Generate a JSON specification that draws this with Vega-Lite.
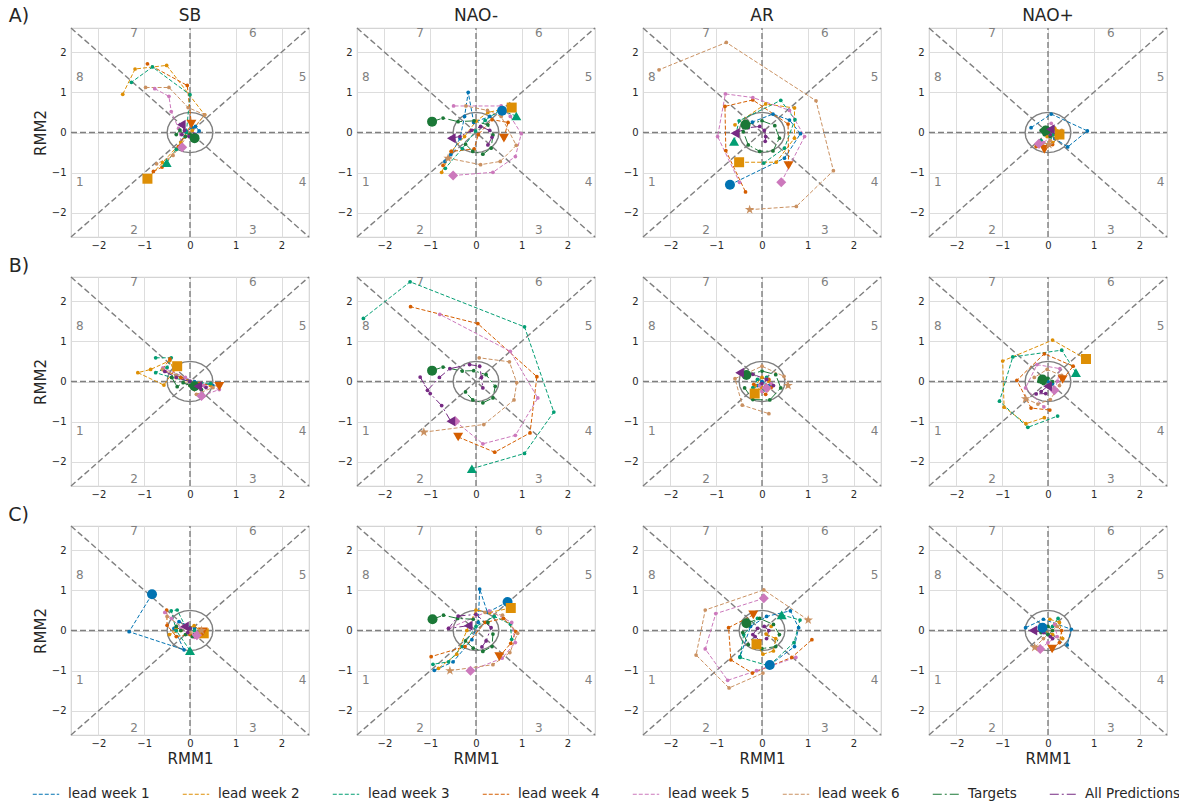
{
"$schema":"https://vega.github.io/schema/vega-lite/v6.json",
"padding":{"left":8,"top":6,"right":5,"bottom":5},
"background":"white",
"datasets":{
"g":[{"x":-2.6,"y":-2.6,"x2":2.6,"y2":2.6},{"x":-2.6,"y":2.6,"x2":2.6,"y2":-2.6},{"x":-2.6,"y":0,"x2":2.6,"y2":0},{"x":0,"y":-2.6,"x2":0,"y2":2.6}],
"c":[{"i":0,"x":0.5,"y":0},{"i":1,"x":0.483,"y":0.129},{"i":2,"x":0.433,"y":0.25},{"i":3,"x":0.354,"y":0.354},{"i":4,"x":0.25,"y":0.433},{"i":5,"x":0.129,"y":0.483},{"i":6,"x":0,"y":0.5},{"i":7,"x":-0.129,"y":0.483},{"i":8,"x":-0.25,"y":0.433},{"i":9,"x":-0.354,"y":0.354},{"i":10,"x":-0.433,"y":0.25},{"i":11,"x":-0.483,"y":0.129},{"i":12,"x":-0.5,"y":0},{"i":13,"x":-0.483,"y":-0.129},{"i":14,"x":-0.433,"y":-0.25},{"i":15,"x":-0.354,"y":-0.354},{"i":16,"x":-0.25,"y":-0.433},{"i":17,"x":-0.129,"y":-0.483},{"i":18,"x":0,"y":-0.5},{"i":19,"x":0.129,"y":-0.483},{"i":20,"x":0.25,"y":-0.433},{"i":21,"x":0.354,"y":-0.354},{"i":22,"x":0.433,"y":-0.25},{"i":23,"x":0.483,"y":-0.129}],
"ph":[{"t":"1","x":-2.41,"y":-1.22},{"t":"2","x":-1.22,"y":-2.42},{"t":"3","x":1.37,"y":-2.42},{"t":"4","x":2.46,"y":-1.22},{"t":"5","x":2.46,"y":1.38},{"t":"6","x":1.37,"y":2.47},{"t":"7","x":-1.22,"y":2.47},{"t":"8","x":-2.41,"y":1.38}],
"m":[
{"p":"A1","s":"2","x":-0.93,"y":-1.15},{"p":"A1","s":"3","x":-0.51,"y":-0.75},{"p":"A1","s":"4","x":0.03,"y":0.21},{"p":"A1","s":"5","x":-0.17,"y":-0.37},{"p":"A1","s":"7","x":0.1,"y":-0.14},{"p":"A1","s":"8","x":-0.19,"y":0.19},
{"p":"A2","s":"1","x":0.57,"y":0.54},{"p":"A2","s":"2","x":0.78,"y":0.62},{"p":"A2","s":"3","x":0.88,"y":0.41},{"p":"A2","s":"4","x":0.61,"y":-0.14},{"p":"A2","s":"5","x":-0.5,"y":-1.07},{"p":"A2","s":"6","x":-0.61,"y":-0.64},{"p":"A2","s":"7","x":-0.96,"y":0.27},{"p":"A2","s":"8","x":-0.54,"y":-0.14},
{"p":"A3","s":"1","x":-0.7,"y":-1.3},{"p":"A3","s":"2","x":-0.5,"y":-0.74},{"p":"A3","s":"3","x":-0.61,"y":-0.22},{"p":"A3","s":"4","x":0.58,"y":-0.82},{"p":"A3","s":"5","x":0.42,"y":-1.24},{"p":"A3","s":"6","x":-0.27,"y":-1.92},{"p":"A3","s":"7","x":-0.36,"y":0.19},{"p":"A3","s":"8","x":-0.59,"y":-0.02},
{"p":"A4","s":"2","x":0.25,"y":-0.05},{"p":"A4","s":"4","x":-0.08,"y":-0.42},{"p":"A4","s":"5","x":-0.2,"y":-0.28},{"p":"A4","s":"6","x":0.02,"y":-0.3},{"p":"A4","s":"7","x":-0.05,"y":0.05},{"p":"A4","s":"8","x":0.05,"y":0.08},
{"p":"B1","s":"2","x":-0.28,"y":0.38},{"p":"B1","s":"4","x":0.64,"y":-0.12},{"p":"B1","s":"5","x":0.25,"y":-0.36},{"p":"B1","s":"7","x":0.1,"y":-0.12},{"p":"B1","s":"8","x":0.17,"y":-0.12},
{"p":"B2","s":"3","x":-0.09,"y":-2.17},{"p":"B2","s":"4","x":-0.39,"y":-1.38},{"p":"B2","s":"5","x":-0.45,"y":-0.99},{"p":"B2","s":"6","x":-1.14,"y":-1.26},{"p":"B2","s":"7","x":-0.96,"y":0.27},{"p":"B2","s":"8","x":-0.55,"y":-0.99},
{"p":"B3","s":"2","x":-0.16,"y":-0.3},{"p":"B3","s":"5","x":0.1,"y":-0.16},{"p":"B3","s":"6","x":0.57,"y":-0.1},{"p":"B3","s":"7","x":-0.34,"y":0.16},{"p":"B3","s":"8","x":-0.49,"y":0.22},
{"p":"B4","s":"2","x":0.83,"y":0.56},{"p":"B4","s":"3","x":0.61,"y":0.22},{"p":"B4","s":"4","x":0.32,"y":0.05},{"p":"B4","s":"5","x":0.14,"y":-0.22},{"p":"B4","s":"6","x":-0.49,"y":-0.43},{"p":"B4","s":"7","x":-0.12,"y":0.05},{"p":"B4","s":"8","x":-0.01,"y":-0.12},
{"p":"C1","s":"1","x":-0.83,"y":0.9},{"p":"C1","s":"2","x":0.3,"y":-0.07},{"p":"C1","s":"3","x":0.0,"y":-0.5},{"p":"C1","s":"4","x":0.28,"y":-0.03},{"p":"C1","s":"5","x":0.15,"y":-0.12},{"p":"C1","s":"6","x":0.25,"y":0.0},{"p":"C1","s":"8","x":-0.12,"y":0.1},
{"p":"C2","s":"1","x":0.69,"y":0.71},{"p":"C2","s":"2","x":0.76,"y":0.56},{"p":"C2","s":"4","x":0.51,"y":-0.65},{"p":"C2","s":"5","x":-0.12,"y":-1.0},{"p":"C2","s":"6","x":-0.57,"y":-1.0},{"p":"C2","s":"7","x":-0.95,"y":0.28},{"p":"C2","s":"8","x":-0.17,"y":0.12},
{"p":"C3","s":"1","x":0.17,"y":-0.86},{"p":"C3","s":"2","x":-0.12,"y":-0.34},{"p":"C3","s":"3","x":0.43,"y":0.39},{"p":"C3","s":"4","x":-0.19,"y":0.39},{"p":"C3","s":"5","x":0.04,"y":0.8},{"p":"C3","s":"6","x":1.01,"y":0.26},{"p":"C3","s":"7","x":-0.34,"y":0.18},
{"p":"C4","s":"1","x":-0.12,"y":0.07},{"p":"C4","s":"4","x":0.09,"y":-0.46},{"p":"C4","s":"5","x":-0.17,"y":-0.46},{"p":"C4","s":"6","x":-0.29,"y":-0.42},{"p":"C4","s":"8","x":-0.33,"y":0.0}
],
"d":[
{"p":"A1","s":"1","i":0,"x":0.05,"y":0.12},{"p":"A1","s":"1","i":1,"x":-0.08,"y":0.02},{"p":"A1","s":"1","i":2,"x":0.08,"y":-0.08},{"p":"A1","s":"1","i":3,"x":0.2,"y":0.04},{"p":"A1","s":"1","i":4,"x":0.12,"y":0.15},
{"p":"A1","s":"2","i":0,"x":-0.93,"y":-1.15},{"p":"A1","s":"2","i":1,"x":-0.6,"y":-0.75},{"p":"A1","s":"2","i":2,"x":-0.2,"y":-0.25},{"p":"A1","s":"2","i":3,"x":0.05,"y":0.05},{"p":"A1","s":"2","i":4,"x":0.32,"y":0.44},{"p":"A1","s":"2","i":5,"x":-0.51,"y":1.67},{"p":"A1","s":"2","i":6,"x":-1.2,"y":1.58},{"p":"A1","s":"2","i":7,"x":-1.47,"y":0.95},
{"p":"A1","s":"3","i":0,"x":-0.51,"y":-0.75},{"p":"A1","s":"3","i":1,"x":-0.3,"y":-0.42},{"p":"A1","s":"3","i":2,"x":-0.08,"y":0.0},{"p":"A1","s":"3","i":3,"x":0.0,"y":0.94},{"p":"A1","s":"3","i":4,"x":-0.82,"y":1.63},{"p":"A1","s":"3","i":5,"x":-1.28,"y":1.25},
{"p":"A1","s":"4","i":0,"x":-0.8,"y":-0.97},{"p":"A1","s":"4","i":1,"x":-0.61,"y":-0.86},{"p":"A1","s":"4","i":2,"x":-0.25,"y":-0.35},{"p":"A1","s":"4","i":3,"x":0.03,"y":0.21},{"p":"A1","s":"4","i":4,"x":-0.06,"y":1.17},{"p":"A1","s":"4","i":5,"x":-0.93,"y":1.71},
{"p":"A1","s":"5","i":0,"x":-0.77,"y":1.09},{"p":"A1","s":"5","i":1,"x":-0.46,"y":0.9},{"p":"A1","s":"5","i":2,"x":-0.41,"y":0.52},{"p":"A1","s":"5","i":3,"x":-0.25,"y":0.1},{"p":"A1","s":"5","i":4,"x":-0.17,"y":-0.37},
{"p":"A1","s":"6","i":0,"x":-0.97,"y":1.12},{"p":"A1","s":"6","i":1,"x":-0.46,"y":1.12},{"p":"A1","s":"6","i":2,"x":-0.04,"y":0.62},{"p":"A1","s":"6","i":3,"x":0.32,"y":0.44},{"p":"A1","s":"6","i":4,"x":0.0,"y":0.0},{"p":"A1","s":"6","i":5,"x":-0.37,"y":-0.57},{"p":"A1","s":"6","i":6,"x":-0.73,"y":-0.78},
{"p":"A1","s":"7","i":0,"x":-0.3,"y":-0.05},{"p":"A1","s":"7","i":1,"x":-0.22,"y":0.06},{"p":"A1","s":"7","i":2,"x":-0.1,"y":-0.1},{"p":"A1","s":"7","i":3,"x":0.0,"y":-0.04},{"p":"A1","s":"7","i":4,"x":0.05,"y":-0.15},{"p":"A1","s":"7","i":5,"x":0.15,"y":-0.1},{"p":"A1","s":"7","i":6,"x":0.1,"y":-0.14},
{"p":"A1","s":"8","i":0,"x":-0.19,"y":0.19},{"p":"A1","s":"8","i":1,"x":-0.12,"y":0.05},{"p":"A1","s":"8","i":2,"x":-0.18,"y":-0.05},{"p":"A1","s":"8","i":3,"x":-0.02,"y":-0.1},{"p":"A1","s":"8","i":4,"x":0.1,"y":-0.04},{"p":"A1","s":"8","i":5,"x":0.15,"y":-0.1},
{"p":"A2","s":"1","i":0,"x":0.57,"y":0.54},{"p":"A2","s":"1","i":1,"x":0.3,"y":0.4},{"p":"A2","s":"1","i":2,"x":-0.05,"y":0.25},{"p":"A2","s":"1","i":3,"x":-0.17,"y":1.0},{"p":"A2","s":"1","i":4,"x":-0.25,"y":0.4},{"p":"A2","s":"1","i":5,"x":-0.35,"y":-0.15},{"p":"A2","s":"1","i":6,"x":-0.55,"y":-0.55},{"p":"A2","s":"1","i":7,"x":-0.68,"y":-0.72},
{"p":"A2","s":"2","i":0,"x":0.78,"y":0.62},{"p":"A2","s":"2","i":1,"x":0.26,"y":0.5},{"p":"A2","s":"2","i":2,"x":0.0,"y":0.28},{"p":"A2","s":"2","i":3,"x":-0.25,"y":-0.1},{"p":"A2","s":"2","i":4,"x":-0.54,"y":-0.47},{"p":"A2","s":"2","i":5,"x":-0.75,"y":-0.99},
{"p":"A2","s":"3","i":0,"x":0.88,"y":0.41},{"p":"A2","s":"3","i":1,"x":0.52,"y":0.56},{"p":"A2","s":"3","i":2,"x":0.2,"y":0.3},{"p":"A2","s":"3","i":3,"x":-0.01,"y":0.04},{"p":"A2","s":"3","i":4,"x":-0.3,"y":-0.4},{"p":"A2","s":"3","i":5,"x":-0.67,"y":-0.89},
{"p":"A2","s":"4","i":0,"x":0.61,"y":-0.14},{"p":"A2","s":"4","i":1,"x":0.7,"y":0.25},{"p":"A2","s":"4","i":2,"x":0.35,"y":0.32},{"p":"A2","s":"4","i":3,"x":0.05,"y":-0.05},{"p":"A2","s":"4","i":4,"x":-0.04,"y":-0.41},{"p":"A2","s":"4","i":5,"x":-0.54,"y":-0.47},{"p":"A2","s":"4","i":6,"x":-0.72,"y":-0.82},
{"p":"A2","s":"5","i":0,"x":-0.5,"y":-1.07},{"p":"A2","s":"5","i":1,"x":0.37,"y":-0.99},{"p":"A2","s":"5","i":2,"x":0.86,"y":-0.6},{"p":"A2","s":"5","i":3,"x":0.99,"y":-0.03},{"p":"A2","s":"5","i":4,"x":0.75,"y":0.4},{"p":"A2","s":"5","i":5,"x":0.55,"y":0.66},{"p":"A2","s":"5","i":6,"x":-0.49,"y":0.66},
{"p":"A2","s":"6","i":0,"x":-0.61,"y":-0.64},{"p":"A2","s":"6","i":1,"x":0.1,"y":-0.8},{"p":"A2","s":"6","i":2,"x":0.53,"y":-0.72},{"p":"A2","s":"6","i":3,"x":0.88,"y":-0.32},{"p":"A2","s":"6","i":4,"x":0.55,"y":0.4},{"p":"A2","s":"6","i":5,"x":0.25,"y":0.55},{"p":"A2","s":"6","i":6,"x":-0.22,"y":0.66},
{"p":"A2","s":"7","i":0,"x":-0.96,"y":0.27},{"p":"A2","s":"7","i":1,"x":-0.72,"y":0.36},{"p":"A2","s":"7","i":2,"x":-0.39,"y":0.27},{"p":"A2","s":"7","i":3,"x":-0.04,"y":0.29},{"p":"A2","s":"7","i":4,"x":0.26,"y":0.19},{"p":"A2","s":"7","i":5,"x":0.37,"y":-0.06},{"p":"A2","s":"7","i":6,"x":0.33,"y":-0.39},{"p":"A2","s":"7","i":7,"x":0.15,"y":-0.54},{"p":"A2","s":"7","i":8,"x":-0.07,"y":-0.47},{"p":"A2","s":"7","i":9,"x":-0.23,"y":-0.29},
{"p":"A2","s":"8","i":0,"x":-0.54,"y":-0.14},{"p":"A2","s":"8","i":1,"x":-0.35,"y":-0.1},{"p":"A2","s":"8","i":2,"x":-0.1,"y":0.05},{"p":"A2","s":"8","i":3,"x":0.1,"y":0.15},{"p":"A2","s":"8","i":4,"x":0.3,"y":0.05},{"p":"A2","s":"8","i":5,"x":0.35,"y":-0.12},{"p":"A2","s":"8","i":6,"x":0.26,"y":-0.31},
{"p":"A3","s":"1","i":0,"x":-0.7,"y":-1.3},{"p":"A3","s":"1","i":1,"x":0.49,"y":-0.64},{"p":"A3","s":"1","i":2,"x":0.84,"y":-0.03},{"p":"A3","s":"1","i":3,"x":0.6,"y":0.31},{"p":"A3","s":"1","i":4,"x":0.24,"y":0.46},{"p":"A3","s":"1","i":5,"x":-0.21,"y":0.26},
{"p":"A3","s":"2","i":0,"x":-0.5,"y":-0.74},{"p":"A3","s":"2","i":1,"x":0.31,"y":-0.74},{"p":"A3","s":"2","i":2,"x":0.71,"y":-0.14},{"p":"A3","s":"2","i":3,"x":0.71,"y":0.61},{"p":"A3","s":"2","i":4,"x":0.08,"y":0.71},{"p":"A3","s":"2","i":5,"x":-0.59,"y":0.19},
{"p":"A3","s":"3","i":0,"x":-0.61,"y":-0.22},{"p":"A3","s":"3","i":1,"x":-0.5,"y":0.29},{"p":"A3","s":"3","i":2,"x":0.41,"y":0.8},{"p":"A3","s":"3","i":3,"x":0.72,"y":0.32},{"p":"A3","s":"3","i":4,"x":0.49,"y":-0.39},{"p":"A3","s":"3","i":5,"x":0.04,"y":-0.76},
{"p":"A3","s":"4","i":0,"x":0.58,"y":-0.82},{"p":"A3","s":"4","i":1,"x":0.57,"y":0.21},{"p":"A3","s":"4","i":2,"x":-0.2,"y":0.81},{"p":"A3","s":"4","i":3,"x":-0.81,"y":0.65},{"p":"A3","s":"4","i":4,"x":-0.79,"y":-0.45},{"p":"A3","s":"4","i":5,"x":-0.36,"y":-1.48},
{"p":"A3","s":"5","i":0,"x":0.42,"y":-1.24},{"p":"A3","s":"5","i":1,"x":0.93,"y":-0.1},{"p":"A3","s":"5","i":2,"x":0.6,"y":0.55},{"p":"A3","s":"5","i":3,"x":-0.2,"y":0.87},{"p":"A3","s":"5","i":4,"x":-0.8,"y":0.96},{"p":"A3","s":"5","i":5,"x":-0.97,"y":-0.1},{"p":"A3","s":"5","i":6,"x":-0.49,"y":-1.24},
{"p":"A3","s":"6","i":0,"x":-0.27,"y":-1.92},{"p":"A3","s":"6","i":1,"x":0.75,"y":-1.84},{"p":"A3","s":"6","i":2,"x":1.56,"y":-0.95},{"p":"A3","s":"6","i":3,"x":1.18,"y":0.79},{"p":"A3","s":"6","i":4,"x":-0.78,"y":2.24},{"p":"A3","s":"6","i":5,"x":-2.25,"y":1.56},
{"p":"A3","s":"7","i":0,"x":-0.36,"y":0.19},{"p":"A3","s":"7","i":1,"x":0.0,"y":0.29},{"p":"A3","s":"7","i":2,"x":0.28,"y":0.17},{"p":"A3","s":"7","i":3,"x":0.38,"y":-0.14},{"p":"A3","s":"7","i":4,"x":0.24,"y":-0.46},{"p":"A3","s":"7","i":5,"x":-0.05,"y":-0.47},{"p":"A3","s":"7","i":6,"x":-0.3,"y":-0.31},{"p":"A3","s":"7","i":7,"x":-0.41,"y":0.02},
{"p":"A3","s":"8","i":0,"x":-0.59,"y":-0.02},{"p":"A3","s":"8","i":1,"x":-0.3,"y":0.12},{"p":"A3","s":"8","i":2,"x":-0.05,"y":0.15},{"p":"A3","s":"8","i":3,"x":0.05,"y":0.05},{"p":"A3","s":"8","i":4,"x":0.08,"y":-0.1},{"p":"A3","s":"8","i":5,"x":0.07,"y":-0.22},
{"p":"A4","s":"1","i":0,"x":-0.37,"y":0.12},{"p":"A4","s":"1","i":1,"x":0.07,"y":0.46},{"p":"A4","s":"1","i":2,"x":0.86,"y":0.04},{"p":"A4","s":"1","i":3,"x":0.43,"y":-0.36},{"p":"A4","s":"1","i":4,"x":0.15,"y":-0.15},
{"p":"A4","s":"2","i":0,"x":0.15,"y":0.1},{"p":"A4","s":"2","i":1,"x":0.3,"y":0.02},{"p":"A4","s":"2","i":2,"x":0.28,"y":-0.1},{"p":"A4","s":"2","i":3,"x":0.1,"y":-0.25},{"p":"A4","s":"2","i":4,"x":-0.02,"y":-0.1},
{"p":"A4","s":"3","i":0,"x":-0.1,"y":0.0},{"p":"A4","s":"3","i":1,"x":0.0,"y":0.1},{"p":"A4","s":"3","i":2,"x":0.12,"y":-0.05},{"p":"A4","s":"3","i":3,"x":0.0,"y":-0.3},{"p":"A4","s":"3","i":4,"x":-0.15,"y":-0.2},
{"p":"A4","s":"4","i":0,"x":-0.26,"y":-0.35},{"p":"A4","s":"4","i":1,"x":-0.08,"y":-0.42},{"p":"A4","s":"4","i":2,"x":0.1,"y":-0.3},{"p":"A4","s":"4","i":3,"x":0.2,"y":-0.1},
{"p":"A4","s":"5","i":0,"x":0.07,"y":0.23},{"p":"A4","s":"5","i":1,"x":0.2,"y":0.0},{"p":"A4","s":"5","i":2,"x":-0.1,"y":-0.25},{"p":"A4","s":"5","i":3,"x":-0.22,"y":-0.3},{"p":"A4","s":"5","i":4,"x":-0.05,"y":-0.35},
{"p":"A4","s":"6","i":0,"x":-0.12,"y":-0.3},{"p":"A4","s":"6","i":1,"x":0.05,"y":-0.2},{"p":"A4","s":"6","i":2,"x":0.2,"y":-0.15},{"p":"A4","s":"6","i":3,"x":0.3,"y":0.05},
{"p":"A4","s":"7","i":0,"x":-0.15,"y":0.05},{"p":"A4","s":"7","i":1,"x":-0.05,"y":0.12},{"p":"A4","s":"7","i":2,"x":0.08,"y":0.05},{"p":"A4","s":"7","i":3,"x":0.05,"y":-0.1},{"p":"A4","s":"7","i":4,"x":-0.08,"y":-0.05},
{"p":"A4","s":"8","i":0,"x":0.0,"y":0.1},{"p":"A4","s":"8","i":1,"x":0.1,"y":0.05},{"p":"A4","s":"8","i":2,"x":0.05,"y":-0.05},{"p":"A4","s":"8","i":3,"x":-0.05,"y":0.0},
{"p":"B1","s":"1","i":0,"x":-0.3,"y":0.15},{"p":"B1","s":"1","i":1,"x":0.1,"y":0.0},{"p":"B1","s":"1","i":2,"x":0.5,"y":-0.1},
{"p":"B1","s":"2","i":0,"x":-0.28,"y":0.38},{"p":"B1","s":"2","i":1,"x":-0.57,"y":-0.09},{"p":"B1","s":"2","i":2,"x":-1.14,"y":0.22},{"p":"B1","s":"2","i":3,"x":-0.86,"y":0.3},{"p":"B1","s":"2","i":4,"x":-0.44,"y":0.52},{"p":"B1","s":"2","i":5,"x":-0.3,"y":0.1},{"p":"B1","s":"2","i":6,"x":0.1,"y":-0.05},{"p":"B1","s":"2","i":7,"x":0.45,"y":-0.1},
{"p":"B1","s":"3","i":0,"x":-0.75,"y":0.59},{"p":"B1","s":"3","i":1,"x":-0.41,"y":0.59},{"p":"B1","s":"3","i":2,"x":-0.5,"y":0.35},{"p":"B1","s":"3","i":3,"x":-0.75,"y":0.22},{"p":"B1","s":"3","i":4,"x":-0.4,"y":0.1},{"p":"B1","s":"3","i":5,"x":0.0,"y":0.0},{"p":"B1","s":"3","i":6,"x":0.45,"y":-0.05},
{"p":"B1","s":"4","i":0,"x":0.64,"y":-0.12},{"p":"B1","s":"4","i":1,"x":0.2,"y":-0.05},{"p":"B1","s":"4","i":2,"x":-0.2,"y":0.1},{"p":"B1","s":"4","i":3,"x":-0.6,"y":0.3},{"p":"B1","s":"4","i":4,"x":-0.44,"y":0.56},
{"p":"B1","s":"5","i":0,"x":0.25,"y":-0.36},{"p":"B1","s":"5","i":1,"x":0.64,"y":-0.2},{"p":"B1","s":"5","i":2,"x":0.3,"y":-0.1},{"p":"B1","s":"5","i":3,"x":-0.1,"y":0.1},{"p":"B1","s":"5","i":4,"x":-0.59,"y":0.34},
{"p":"B1","s":"6","i":0,"x":-0.6,"y":0.3},{"p":"B1","s":"6","i":1,"x":-0.3,"y":0.15},{"p":"B1","s":"6","i":2,"x":0.0,"y":-0.1},{"p":"B1","s":"6","i":3,"x":0.14,"y":-0.32},{"p":"B1","s":"6","i":4,"x":0.5,"y":-0.15},
{"p":"B1","s":"7","i":0,"x":-0.4,"y":0.1},{"p":"B1","s":"7","i":1,"x":-0.28,"y":-0.13},{"p":"B1","s":"7","i":2,"x":-0.15,"y":-0.03},{"p":"B1","s":"7","i":3,"x":0.0,"y":-0.1},{"p":"B1","s":"7","i":4,"x":0.1,"y":-0.07},{"p":"B1","s":"7","i":5,"x":0.25,"y":-0.2},
{"p":"B1","s":"8","i":0,"x":-0.55,"y":0.25},{"p":"B1","s":"8","i":1,"x":-0.3,"y":0.1},{"p":"B1","s":"8","i":2,"x":0.0,"y":0.0},{"p":"B1","s":"8","i":3,"x":0.2,"y":-0.1},{"p":"B1","s":"8","i":4,"x":0.35,"y":-0.15},
{"p":"B2","s":"3","i":0,"x":-0.09,"y":-2.17},{"p":"B2","s":"3","i":1,"x":1.06,"y":-1.79},{"p":"B2","s":"3","i":2,"x":1.7,"y":-0.76},{"p":"B2","s":"3","i":3,"x":1.06,"y":1.36},{"p":"B2","s":"3","i":4,"x":-1.44,"y":2.48},{"p":"B2","s":"3","i":5,"x":-2.46,"y":1.57},
{"p":"B2","s":"4","i":0,"x":-0.39,"y":-1.38},{"p":"B2","s":"4","i":1,"x":0.41,"y":-1.76},{"p":"B2","s":"4","i":2,"x":1.18,"y":-1.28},{"p":"B2","s":"4","i":3,"x":1.33,"y":0.12},{"p":"B2","s":"4","i":4,"x":0.04,"y":1.44},{"p":"B2","s":"4","i":5,"x":-1.43,"y":1.86},
{"p":"B2","s":"5","i":0,"x":-0.45,"y":-0.99},{"p":"B2","s":"5","i":1,"x":0.15,"y":-1.55},{"p":"B2","s":"5","i":2,"x":0.86,"y":-1.34},{"p":"B2","s":"5","i":3,"x":1.35,"y":-0.41},{"p":"B2","s":"5","i":4,"x":0.75,"y":0.75},{"p":"B2","s":"5","i":5,"x":-0.79,"y":1.67},
{"p":"B2","s":"6","i":0,"x":-1.14,"y":-1.26},{"p":"B2","s":"6","i":1,"x":0.17,"y":-1.07},{"p":"B2","s":"6","i":2,"x":0.83,"y":-0.46},{"p":"B2","s":"6","i":3,"x":0.89,"y":-0.03},{"p":"B2","s":"6","i":4,"x":0.73,"y":0.49},{"p":"B2","s":"6","i":5,"x":0.07,"y":0.59},
{"p":"B2","s":"7","i":0,"x":-0.96,"y":0.27},{"p":"B2","s":"7","i":1,"x":-0.72,"y":0.36},{"p":"B2","s":"7","i":2,"x":-0.3,"y":0.26},{"p":"B2","s":"7","i":3,"x":-0.05,"y":0.27},{"p":"B2","s":"7","i":4,"x":0.22,"y":0.17},{"p":"B2","s":"7","i":5,"x":0.42,"y":-0.12},{"p":"B2","s":"7","i":6,"x":0.37,"y":-0.41},{"p":"B2","s":"7","i":7,"x":0.15,"y":-0.53},{"p":"B2","s":"7","i":8,"x":-0.07,"y":-0.46},{"p":"B2","s":"7","i":9,"x":-0.23,"y":-0.26},
{"p":"B2","s":"8","i":0,"x":-0.55,"y":-0.99},{"p":"B2","s":"8","i":1,"x":-0.75,"y":-0.6},{"p":"B2","s":"8","i":2,"x":-1.0,"y":-0.3},{"p":"B2","s":"8","i":3,"x":-1.22,"y":0.11},{"p":"B2","s":"8","i":4,"x":-1.06,"y":-0.22},{"p":"B2","s":"8","i":5,"x":-0.8,"y":0.1},{"p":"B2","s":"8","i":6,"x":-0.57,"y":0.32},{"p":"B2","s":"8","i":7,"x":-0.14,"y":0.42},{"p":"B2","s":"8","i":8,"x":0.08,"y":0.38},{"p":"B2","s":"8","i":9,"x":0.12,"y":0.1},{"p":"B2","s":"8","i":10,"x":0.15,"y":-0.16},
{"p":"B3","s":"1","i":0,"x":0.0,"y":0.0},{"p":"B3","s":"1","i":1,"x":0.15,"y":-0.1},{"p":"B3","s":"1","i":2,"x":0.05,"y":-0.2},{"p":"B3","s":"1","i":3,"x":-0.1,"y":-0.1},
{"p":"B3","s":"2","i":0,"x":-0.16,"y":-0.3},{"p":"B3","s":"2","i":1,"x":0.0,"y":-0.15},{"p":"B3","s":"2","i":2,"x":0.15,"y":0.0},{"p":"B3","s":"2","i":3,"x":0.0,"y":0.1},{"p":"B3","s":"2","i":4,"x":-0.15,"y":-0.1},
{"p":"B3","s":"3","i":0,"x":-0.2,"y":-0.15},{"p":"B3","s":"3","i":1,"x":-0.1,"y":0.05},{"p":"B3","s":"3","i":2,"x":0.1,"y":0.1},{"p":"B3","s":"3","i":3,"x":0.2,"y":-0.05},{"p":"B3","s":"3","i":4,"x":0.05,"y":-0.2},
{"p":"B3","s":"4","i":0,"x":-0.18,"y":-0.07},{"p":"B3","s":"4","i":1,"x":0.08,"y":-0.32},{"p":"B3","s":"4","i":2,"x":0.2,"y":-0.15},{"p":"B3","s":"4","i":3,"x":0.15,"y":0.05},
{"p":"B3","s":"5","i":0,"x":0.1,"y":-0.16},{"p":"B3","s":"5","i":1,"x":0.2,"y":-0.05},{"p":"B3","s":"5","i":2,"x":0.1,"y":0.05},{"p":"B3","s":"5","i":3,"x":-0.05,"y":-0.1},{"p":"B3","s":"5","i":4,"x":0.0,"y":-0.25},
{"p":"B3","s":"6","i":0,"x":0.57,"y":-0.1},{"p":"B3","s":"6","i":1,"x":0.48,"y":0.13},{"p":"B3","s":"6","i":2,"x":0.0,"y":0.38},{"p":"B3","s":"6","i":3,"x":-0.59,"y":0.07},{"p":"B3","s":"6","i":4,"x":-0.43,"y":-0.59},{"p":"B3","s":"6","i":5,"x":0.15,"y":-0.8},
{"p":"B3","s":"7","i":0,"x":-0.34,"y":0.16},{"p":"B3","s":"7","i":1,"x":0.0,"y":0.26},{"p":"B3","s":"7","i":2,"x":0.3,"y":0.17},{"p":"B3","s":"7","i":3,"x":0.41,"y":-0.16},{"p":"B3","s":"7","i":4,"x":0.17,"y":-0.46},{"p":"B3","s":"7","i":5,"x":-0.2,"y":-0.45},{"p":"B3","s":"7","i":6,"x":-0.38,"y":-0.16},
{"p":"B3","s":"8","i":0,"x":-0.49,"y":0.22},{"p":"B3","s":"8","i":1,"x":-0.2,"y":0.18},{"p":"B3","s":"8","i":2,"x":0.1,"y":0.05},{"p":"B3","s":"8","i":3,"x":0.25,"y":-0.1},{"p":"B3","s":"8","i":4,"x":0.1,"y":-0.15},{"p":"B3","s":"8","i":5,"x":0.0,"y":-0.05},
{"p":"B4","s":"1","i":0,"x":0.0,"y":0.0},{"p":"B4","s":"1","i":1,"x":0.1,"y":-0.05},{"p":"B4","s":"1","i":2,"x":0.05,"y":-0.15},
{"p":"B4","s":"2","i":0,"x":0.83,"y":0.56},{"p":"B4","s":"2","i":1,"x":0.1,"y":1.03},{"p":"B4","s":"2","i":2,"x":-0.99,"y":0.51},{"p":"B4","s":"2","i":3,"x":-0.96,"y":-0.64},{"p":"B4","s":"2","i":4,"x":-0.48,"y":-1.05},{"p":"B4","s":"2","i":5,"x":-0.08,"y":-0.9},
{"p":"B4","s":"3","i":0,"x":0.61,"y":0.22},{"p":"B4","s":"3","i":1,"x":0.3,"y":0.78},{"p":"B4","s":"3","i":2,"x":-0.77,"y":0.61},{"p":"B4","s":"3","i":3,"x":-1.06,"y":-0.49},{"p":"B4","s":"3","i":4,"x":-0.44,"y":-1.14},{"p":"B4","s":"3","i":5,"x":0.21,"y":-0.86},
{"p":"B4","s":"4","i":0,"x":0.32,"y":0.05},{"p":"B4","s":"4","i":1,"x":0.55,"y":0.38},{"p":"B4","s":"4","i":2,"x":-0.08,"y":0.69},{"p":"B4","s":"4","i":3,"x":-0.68,"y":0.03},{"p":"B4","s":"4","i":4,"x":-0.37,"y":-0.66},{"p":"B4","s":"4","i":5,"x":0.04,"y":-0.71},
{"p":"B4","s":"5","i":0,"x":0.14,"y":-0.22},{"p":"B4","s":"5","i":1,"x":0.21,"y":0.01},{"p":"B4","s":"5","i":2,"x":0.26,"y":0.32},{"p":"B4","s":"5","i":3,"x":-0.24,"y":0.42},{"p":"B4","s":"5","i":4,"x":-0.49,"y":-0.16},{"p":"B4","s":"5","i":5,"x":-0.09,"y":-0.63},
{"p":"B4","s":"6","i":0,"x":-0.49,"y":-0.43},{"p":"B4","s":"6","i":1,"x":-0.22,"y":-0.56},{"p":"B4","s":"6","i":2,"x":0.05,"y":-0.45},{"p":"B4","s":"6","i":3,"x":0.25,"y":-0.1},{"p":"B4","s":"6","i":4,"x":0.3,"y":0.15},{"p":"B4","s":"6","i":5,"x":-0.02,"y":0.3},{"p":"B4","s":"6","i":6,"x":-0.3,"y":0.1},
{"p":"B4","s":"7","i":0,"x":-0.2,"y":0.0},{"p":"B4","s":"7","i":1,"x":-0.1,"y":0.05},{"p":"B4","s":"7","i":2,"x":0.0,"y":0.08},{"p":"B4","s":"7","i":3,"x":0.1,"y":0.0},{"p":"B4","s":"7","i":4,"x":0.05,"y":-0.08},{"p":"B4","s":"7","i":5,"x":-0.1,"y":-0.05},
{"p":"B4","s":"8","i":0,"x":-0.01,"y":-0.12},{"p":"B4","s":"8","i":1,"x":-0.15,"y":-0.25},{"p":"B4","s":"8","i":2,"x":-0.26,"y":-0.31},{"p":"B4","s":"8","i":3,"x":-0.05,"y":-0.3},
{"p":"C1","s":"1","i":0,"x":-0.83,"y":0.9},{"p":"C1","s":"1","i":1,"x":-1.33,"y":-0.03},{"p":"C1","s":"1","i":2,"x":-0.13,"y":-0.48},{"p":"C1","s":"1","i":3,"x":-0.35,"y":0.05},{"p":"C1","s":"1","i":4,"x":-0.24,"y":0.22},{"p":"C1","s":"1","i":5,"x":0.1,"y":0.05},
{"p":"C1","s":"2","i":0,"x":0.3,"y":-0.07},{"p":"C1","s":"2","i":1,"x":0.09,"y":0.12},{"p":"C1","s":"2","i":2,"x":-0.2,"y":0.0},{"p":"C1","s":"2","i":3,"x":-0.45,"y":-0.1},{"p":"C1","s":"2","i":4,"x":-0.3,"y":0.05},
{"p":"C1","s":"3","i":0,"x":0.0,"y":-0.5},{"p":"C1","s":"3","i":1,"x":-0.3,"y":0.0},{"p":"C1","s":"3","i":2,"x":-0.41,"y":0.49},{"p":"C1","s":"3","i":3,"x":-0.28,"y":0.51},{"p":"C1","s":"3","i":4,"x":-0.1,"y":0.1},{"p":"C1","s":"3","i":5,"x":0.1,"y":0.0},
{"p":"C1","s":"4","i":0,"x":-0.51,"y":0.51},{"p":"C1","s":"4","i":1,"x":-0.5,"y":0.13},{"p":"C1","s":"4","i":2,"x":-0.3,"y":-0.15},{"p":"C1","s":"4","i":3,"x":0.0,"y":-0.1},{"p":"C1","s":"4","i":4,"x":0.28,"y":-0.03},
{"p":"C1","s":"5","i":0,"x":-0.55,"y":0.45},{"p":"C1","s":"5","i":1,"x":-0.4,"y":0.3},{"p":"C1","s":"5","i":2,"x":-0.2,"y":0.05},{"p":"C1","s":"5","i":3,"x":0.1,"y":-0.17},{"p":"C1","s":"5","i":4,"x":0.2,"y":-0.1},
{"p":"C1","s":"6","i":0,"x":-0.5,"y":0.35},{"p":"C1","s":"6","i":1,"x":0.0,"y":-0.05},{"p":"C1","s":"6","i":2,"x":0.25,"y":0.0},{"p":"C1","s":"6","i":3,"x":0.3,"y":-0.05},
{"p":"C1","s":"7","i":0,"x":-0.3,"y":0.1},{"p":"C1","s":"7","i":1,"x":-0.2,"y":0.0},{"p":"C1","s":"7","i":2,"x":0.0,"y":0.05},{"p":"C1","s":"7","i":3,"x":-0.1,"y":-0.1},{"p":"C1","s":"7","i":4,"x":0.05,"y":-0.15},{"p":"C1","s":"7","i":5,"x":0.15,"y":-0.05},
{"p":"C1","s":"8","i":0,"x":-0.12,"y":0.1},{"p":"C1","s":"8","i":1,"x":0.0,"y":0.05},{"p":"C1","s":"8","i":2,"x":-0.05,"y":-0.05},{"p":"C1","s":"8","i":3,"x":0.1,"y":-0.1},
{"p":"C2","s":"1","i":0,"x":0.69,"y":0.71},{"p":"C2","s":"1","i":1,"x":0.25,"y":0.45},{"p":"C2","s":"1","i":2,"x":0.08,"y":1.03},{"p":"C2","s":"1","i":3,"x":0.05,"y":0.2},{"p":"C2","s":"1","i":4,"x":-0.09,"y":-0.23},{"p":"C2","s":"1","i":5,"x":-0.5,"y":-0.78},{"p":"C2","s":"1","i":6,"x":-0.91,"y":-0.99},
{"p":"C2","s":"2","i":0,"x":0.76,"y":0.56},{"p":"C2","s":"2","i":1,"x":0.3,"y":0.45},{"p":"C2","s":"2","i":2,"x":0.0,"y":0.51},{"p":"C2","s":"2","i":3,"x":-0.2,"y":0.0},{"p":"C2","s":"2","i":4,"x":-0.42,"y":-0.59},{"p":"C2","s":"2","i":5,"x":-0.82,"y":-0.94},
{"p":"C2","s":"3","i":0,"x":0.78,"y":-0.22},{"p":"C2","s":"3","i":1,"x":0.75,"y":0.16},{"p":"C2","s":"3","i":2,"x":0.4,"y":0.35},{"p":"C2","s":"3","i":3,"x":0.0,"y":0.1},{"p":"C2","s":"3","i":4,"x":-0.3,"y":-0.4},{"p":"C2","s":"3","i":5,"x":-0.6,"y":-0.78},{"p":"C2","s":"3","i":6,"x":-0.94,"y":-0.84},
{"p":"C2","s":"4","i":0,"x":0.51,"y":-0.65},{"p":"C2","s":"4","i":1,"x":0.76,"y":-0.32},{"p":"C2","s":"4","i":2,"x":0.87,"y":-0.03},{"p":"C2","s":"4","i":3,"x":0.6,"y":0.3},{"p":"C2","s":"4","i":4,"x":0.2,"y":0.2},{"p":"C2","s":"4","i":5,"x":-0.24,"y":-0.4},{"p":"C2","s":"4","i":6,"x":-0.98,"y":-0.65},
{"p":"C2","s":"5","i":0,"x":-0.12,"y":-1.0},{"p":"C2","s":"5","i":1,"x":0.57,"y":-0.69},{"p":"C2","s":"5","i":2,"x":0.86,"y":-0.3},{"p":"C2","s":"5","i":3,"x":0.78,"y":0.2},{"p":"C2","s":"5","i":4,"x":0.29,"y":0.49},{"p":"C2","s":"5","i":5,"x":-0.6,"y":0.05},
{"p":"C2","s":"6","i":0,"x":-0.57,"y":-1.0},{"p":"C2","s":"6","i":1,"x":0.37,"y":-0.85},{"p":"C2","s":"6","i":2,"x":0.74,"y":-0.55},{"p":"C2","s":"6","i":3,"x":0.91,"y":-0.07},{"p":"C2","s":"6","i":4,"x":0.58,"y":0.38},{"p":"C2","s":"6","i":5,"x":0.2,"y":0.45},
{"p":"C2","s":"7","i":0,"x":-0.95,"y":0.28},{"p":"C2","s":"7","i":1,"x":-0.71,"y":0.38},{"p":"C2","s":"7","i":2,"x":-0.4,"y":0.3},{"p":"C2","s":"7","i":3,"x":-0.06,"y":0.28},{"p":"C2","s":"7","i":4,"x":0.26,"y":0.2},{"p":"C2","s":"7","i":5,"x":0.37,"y":-0.09},{"p":"C2","s":"7","i":6,"x":0.35,"y":-0.4},{"p":"C2","s":"7","i":7,"x":0.15,"y":-0.52},{"p":"C2","s":"7","i":8,"x":-0.06,"y":-0.44},{"p":"C2","s":"7","i":9,"x":-0.23,"y":-0.26},
{"p":"C2","s":"8","i":0,"x":-0.17,"y":0.12},{"p":"C2","s":"8","i":1,"x":-0.6,"y":0.05},{"p":"C2","s":"8","i":2,"x":-0.39,"y":0.36},{"p":"C2","s":"8","i":3,"x":0.0,"y":0.4},{"p":"C2","s":"8","i":4,"x":0.33,"y":0.07},{"p":"C2","s":"8","i":5,"x":0.22,"y":-0.26},{"p":"C2","s":"8","i":6,"x":0.13,"y":-0.41},
{"p":"C3","s":"1","i":0,"x":0.17,"y":-0.86},{"p":"C3","s":"1","i":1,"x":0.71,"y":-0.4},{"p":"C3","s":"1","i":2,"x":0.8,"y":0.07},{"p":"C3","s":"1","i":3,"x":0.62,"y":0.49},{"p":"C3","s":"1","i":4,"x":0.1,"y":0.35},{"p":"C3","s":"1","i":5,"x":-0.25,"y":0.1},{"p":"C3","s":"1","i":6,"x":-0.48,"y":-0.65},
{"p":"C3","s":"2","i":0,"x":-0.12,"y":-0.34},{"p":"C3","s":"2","i":1,"x":0.02,"y":-0.59},{"p":"C3","s":"2","i":2,"x":0.25,"y":-0.51},{"p":"C3","s":"2","i":3,"x":0.3,"y":-0.2},{"p":"C3","s":"2","i":4,"x":0.09,"y":-0.09},{"p":"C3","s":"2","i":5,"x":0.2,"y":0.1},
{"p":"C3","s":"3","i":0,"x":0.43,"y":0.39},{"p":"C3","s":"3","i":1,"x":0.83,"y":0.26},{"p":"C3","s":"3","i":2,"x":0.7,"y":-0.3},{"p":"C3","s":"3","i":3,"x":0.15,"y":-0.88},{"p":"C3","s":"3","i":4,"x":-0.48,"y":-0.67},{"p":"C3","s":"3","i":5,"x":-0.4,"y":-0.1},{"p":"C3","s":"3","i":6,"x":-0.1,"y":0.3},
{"p":"C3","s":"4","i":0,"x":-0.19,"y":0.39},{"p":"C3","s":"4","i":1,"x":-0.73,"y":0.07},{"p":"C3","s":"4","i":2,"x":-0.68,"y":-0.73},{"p":"C3","s":"4","i":3,"x":-0.21,"y":-1.06},{"p":"C3","s":"4","i":4,"x":0.65,"y":-0.67},{"p":"C3","s":"4","i":5,"x":1.09,"y":-0.23},
{"p":"C3","s":"5","i":0,"x":0.04,"y":0.8},{"p":"C3","s":"5","i":1,"x":-1.01,"y":0.42},{"p":"C3","s":"5","i":2,"x":-1.24,"y":-0.46},{"p":"C3","s":"5","i":3,"x":-0.75,"y":-1.24},{"p":"C3","s":"5","i":4,"x":-0.12,"y":-1.0},{"p":"C3","s":"5","i":5,"x":0.74,"y":-0.67},
{"p":"C3","s":"6","i":0,"x":1.01,"y":0.26},{"p":"C3","s":"6","i":1,"x":0.04,"y":1.01},{"p":"C3","s":"6","i":2,"x":-1.24,"y":0.51},{"p":"C3","s":"6","i":3,"x":-1.44,"y":-0.61},{"p":"C3","s":"6","i":4,"x":-0.72,"y":-1.43},{"p":"C3","s":"6","i":5,"x":0.02,"y":-1.06},
{"p":"C3","s":"7","i":0,"x":-0.34,"y":0.18},{"p":"C3","s":"7","i":1,"x":-0.05,"y":0.3},{"p":"C3","s":"7","i":2,"x":0.25,"y":0.15},{"p":"C3","s":"7","i":3,"x":0.38,"y":-0.1},{"p":"C3","s":"7","i":4,"x":0.3,"y":-0.4},{"p":"C3","s":"7","i":5,"x":0.0,"y":-0.45},{"p":"C3","s":"7","i":6,"x":-0.3,"y":-0.35},{"p":"C3","s":"7","i":7,"x":-0.42,"y":-0.05},
{"p":"C3","s":"8","i":0,"x":-0.2,"y":-0.1},{"p":"C3","s":"8","i":1,"x":-0.1,"y":0.05},{"p":"C3","s":"8","i":2,"x":0.05,"y":0.1},{"p":"C3","s":"8","i":3,"x":0.15,"y":0.0},{"p":"C3","s":"8","i":4,"x":0.1,"y":-0.2},{"p":"C3","s":"8","i":5,"x":-0.05,"y":-0.25},{"p":"C3","s":"8","i":6,"x":-0.15,"y":-0.15},
{"p":"C4","s":"1","i":0,"x":-0.49,"y":0.07},{"p":"C4","s":"1","i":1,"x":-0.1,"y":0.28},{"p":"C4","s":"1","i":2,"x":0.51,"y":0.03},{"p":"C4","s":"1","i":3,"x":0.42,"y":-0.36},
{"p":"C4","s":"2","i":0,"x":0.04,"y":0.28},{"p":"C4","s":"2","i":1,"x":0.25,"y":0.2},{"p":"C4","s":"2","i":2,"x":0.32,"y":-0.2},{"p":"C4","s":"2","i":3,"x":0.1,"y":-0.1},{"p":"C4","s":"2","i":4,"x":-0.1,"y":0.0},
{"p":"C4","s":"3","i":0,"x":0.22,"y":0.3},{"p":"C4","s":"3","i":1,"x":0.1,"y":0.1},{"p":"C4","s":"3","i":2,"x":-0.1,"y":0.05},{"p":"C4","s":"3","i":3,"x":0.0,"y":-0.1},
{"p":"C4","s":"4","i":0,"x":0.09,"y":-0.46},{"p":"C4","s":"4","i":1,"x":0.25,"y":-0.3},{"p":"C4","s":"4","i":2,"x":0.3,"y":0.0},{"p":"C4","s":"4","i":3,"x":0.15,"y":0.15},
{"p":"C4","s":"5","i":0,"x":-0.17,"y":-0.46},{"p":"C4","s":"5","i":1,"x":0.0,"y":-0.3},{"p":"C4","s":"5","i":2,"x":0.2,"y":-0.15},{"p":"C4","s":"5","i":3,"x":0.15,"y":0.15},
{"p":"C4","s":"6","i":0,"x":-0.29,"y":-0.42},{"p":"C4","s":"6","i":1,"x":-0.1,"y":-0.2},{"p":"C4","s":"6","i":2,"x":0.1,"y":0.0},{"p":"C4","s":"6","i":3,"x":0.2,"y":0.1},
{"p":"C4","s":"7","i":0,"x":-0.1,"y":0.05},{"p":"C4","s":"7","i":1,"x":0.0,"y":0.1},{"p":"C4","s":"7","i":2,"x":0.1,"y":0.0},{"p":"C4","s":"7","i":3,"x":0.0,"y":-0.1},{"p":"C4","s":"7","i":4,"x":-0.15,"y":-0.05},
{"p":"C4","s":"8","i":0,"x":-0.33,"y":0.0},{"p":"C4","s":"8","i":1,"x":-0.1,"y":-0.05},{"p":"C4","s":"8","i":2,"x":0.05,"y":-0.15},{"p":"C4","s":"8","i":3,"x":0.1,"y":-0.2}
]
},
"spacing":5,
"vconcat":[
{"title":{"text":"A)","orient":"left","anchor":"end","angle":0,"align":"right","baseline":"top","fontSize":19,"offset":5,"dx":22},
 "spacing":25,
 "hconcat":[
 {"width":238,"height":209,"title":"SB",
  "encoding":{"x":{"field":"x","type":"quantitative","scale":{"domain":[-2.6,2.6],"nice":false,"zero":false},"axis":{"values":[-2,-1,0,1,2],"title":null}},"y":{"field":"y","type":"quantitative","scale":{"domain":[-2.6,2.6],"nice":false,"zero":false},"axis":{"values":[-2,-1,0,1,2],"title":"RMM2"}}},
  "layer":[
  {"data":{"name":"g"},"mark":{"type":"rule","color":"#7f7f7f","strokeDash":[6,3],"strokeWidth":1.4},"encoding":{"x2":{"field":"x2"},"y2":{"field":"y2"}}},
  {"data":{"name":"c"},"mark":{"type":"line","interpolate":"linear-closed","color":"#7f7f7f","strokeWidth":1.4},"encoding":{"order":{"field":"i","type":"quantitative"}}},
  {"data":{"name":"ph"},"mark":{"type":"text","fill":"#7f7f7f","fontSize":12},"encoding":{"text":{"field":"t"}}},
  {"data":{"name":"d"},"transform":[{"filter":"datum.p=='A1'"}],"mark":{"type":"line"},"encoding":{"color":{"field":"s","type":"nominal","scale":{"domain":["1","2","3","4","5","6","7","8"]},"legend":{"title":null,"labelExpr":"datum.label=='7'?'Targets':datum.label=='8'?'All Predictions':'lead week '+datum.label"}},"strokeDash":{"field":"s","type":"nominal","scale":{"domain":["1","2","3","4","5","6","7","8"],"range":[[4,2],[4,2],[4,2],[4,2],[4,2],[4,2],[9,3,2,3],[9,3,2,3]]},"legend":{"title":null,"labelExpr":"datum.label=='7'?'Targets':datum.label=='8'?'All Predictions':'lead week '+datum.label"}},"strokeWidth":{"field":"s","type":"ordinal","scale":{"domain":["1","2","3","4","5","6","7","8"],"range":[1,1,1,1,1,1,1.8,1.8]},"legend":null},"order":{"field":"i","type":"quantitative"}}},
  {"data":{"name":"d"},"transform":[{"filter":"datum.p=='A1'"}],"mark":{"type":"point","filled":true,"size":14,"opacity":1},"encoding":{"color":{"field":"s","type":"nominal","scale":{"domain":["1","2","3","4","5","6","7","8"]},"legend":null}}},
  {"data":{"name":"m"},"transform":[{"filter":"datum.p=='A1'"}],"mark":{"type":"point","filled":true,"size":100,"opacity":1},"encoding":{"color":{"field":"s","type":"nominal","scale":{"domain":["1","2","3","4","5","6","7","8"]},"legend":null},"shape":{"field":"s","type":"nominal","scale":{"range":["circle","square","triangle-up","triangle-down","diamond","M0,-1L0.2245,-0.309L0.951,-0.309L0.363,0.118L0.588,0.809L0,0.382L-0.588,0.809L-0.363,0.118L-0.951,-0.309L-0.2245,-0.309Z","circle","triangle-left"]},"legend":null}}}
  ]},
 {"width":238,"height":209,"title":"NAO-",
  "encoding":{"x":{"field":"x","type":"quantitative","scale":{"domain":[-2.6,2.6],"nice":false,"zero":false},"axis":{"values":[-2,-1,0,1,2],"title":null}},"y":{"field":"y","type":"quantitative","scale":{"domain":[-2.6,2.6],"nice":false,"zero":false},"axis":{"values":[-2,-1,0,1,2],"title":null}}},
  "layer":[
  {"data":{"name":"g"},"mark":{"type":"rule","color":"#7f7f7f","strokeDash":[6,3],"strokeWidth":1.4},"encoding":{"x2":{"field":"x2"},"y2":{"field":"y2"}}},
  {"data":{"name":"c"},"mark":{"type":"line","interpolate":"linear-closed","color":"#7f7f7f","strokeWidth":1.4},"encoding":{"order":{"field":"i","type":"quantitative"}}},
  {"data":{"name":"ph"},"mark":{"type":"text","fill":"#7f7f7f","fontSize":12},"encoding":{"text":{"field":"t"}}},
  {"data":{"name":"d"},"transform":[{"filter":"datum.p=='A2'"}],"mark":{"type":"line"},"encoding":{"color":{"field":"s","type":"nominal","scale":{"domain":["1","2","3","4","5","6","7","8"]},"legend":{"title":null,"labelExpr":"datum.label=='7'?'Targets':datum.label=='8'?'All Predictions':'lead week '+datum.label"}},"strokeDash":{"field":"s","type":"nominal","scale":{"domain":["1","2","3","4","5","6","7","8"],"range":[[4,2],[4,2],[4,2],[4,2],[4,2],[4,2],[9,3,2,3],[9,3,2,3]]},"legend":{"title":null,"labelExpr":"datum.label=='7'?'Targets':datum.label=='8'?'All Predictions':'lead week '+datum.label"}},"strokeWidth":{"field":"s","type":"ordinal","scale":{"domain":["1","2","3","4","5","6","7","8"],"range":[1,1,1,1,1,1,1.8,1.8]},"legend":null},"order":{"field":"i","type":"quantitative"}}},
  {"data":{"name":"d"},"transform":[{"filter":"datum.p=='A2'"}],"mark":{"type":"point","filled":true,"size":14,"opacity":1},"encoding":{"color":{"field":"s","type":"nominal","scale":{"domain":["1","2","3","4","5","6","7","8"]},"legend":null}}},
  {"data":{"name":"m"},"transform":[{"filter":"datum.p=='A2'"}],"mark":{"type":"point","filled":true,"size":100,"opacity":1},"encoding":{"color":{"field":"s","type":"nominal","scale":{"domain":["1","2","3","4","5","6","7","8"]},"legend":null},"shape":{"field":"s","type":"nominal","scale":{"range":["circle","square","triangle-up","triangle-down","diamond","M0,-1L0.2245,-0.309L0.951,-0.309L0.363,0.118L0.588,0.809L0,0.382L-0.588,0.809L-0.363,0.118L-0.951,-0.309L-0.2245,-0.309Z","circle","triangle-left"]},"legend":null}}}
  ]},
 {"width":238,"height":209,"title":"AR",
  "encoding":{"x":{"field":"x","type":"quantitative","scale":{"domain":[-2.6,2.6],"nice":false,"zero":false},"axis":{"values":[-2,-1,0,1,2],"title":null}},"y":{"field":"y","type":"quantitative","scale":{"domain":[-2.6,2.6],"nice":false,"zero":false},"axis":{"values":[-2,-1,0,1,2],"title":null}}},
  "layer":[
  {"data":{"name":"g"},"mark":{"type":"rule","color":"#7f7f7f","strokeDash":[6,3],"strokeWidth":1.4},"encoding":{"x2":{"field":"x2"},"y2":{"field":"y2"}}},
  {"data":{"name":"c"},"mark":{"type":"line","interpolate":"linear-closed","color":"#7f7f7f","strokeWidth":1.4},"encoding":{"order":{"field":"i","type":"quantitative"}}},
  {"data":{"name":"ph"},"mark":{"type":"text","fill":"#7f7f7f","fontSize":12},"encoding":{"text":{"field":"t"}}},
  {"data":{"name":"d"},"transform":[{"filter":"datum.p=='A3'"}],"mark":{"type":"line"},"encoding":{"color":{"field":"s","type":"nominal","scale":{"domain":["1","2","3","4","5","6","7","8"]},"legend":{"title":null,"labelExpr":"datum.label=='7'?'Targets':datum.label=='8'?'All Predictions':'lead week '+datum.label"}},"strokeDash":{"field":"s","type":"nominal","scale":{"domain":["1","2","3","4","5","6","7","8"],"range":[[4,2],[4,2],[4,2],[4,2],[4,2],[4,2],[9,3,2,3],[9,3,2,3]]},"legend":{"title":null,"labelExpr":"datum.label=='7'?'Targets':datum.label=='8'?'All Predictions':'lead week '+datum.label"}},"strokeWidth":{"field":"s","type":"ordinal","scale":{"domain":["1","2","3","4","5","6","7","8"],"range":[1,1,1,1,1,1,1.8,1.8]},"legend":null},"order":{"field":"i","type":"quantitative"}}},
  {"data":{"name":"d"},"transform":[{"filter":"datum.p=='A3'"}],"mark":{"type":"point","filled":true,"size":14,"opacity":1},"encoding":{"color":{"field":"s","type":"nominal","scale":{"domain":["1","2","3","4","5","6","7","8"]},"legend":null}}},
  {"data":{"name":"m"},"transform":[{"filter":"datum.p=='A3'"}],"mark":{"type":"point","filled":true,"size":100,"opacity":1},"encoding":{"color":{"field":"s","type":"nominal","scale":{"domain":["1","2","3","4","5","6","7","8"]},"legend":null},"shape":{"field":"s","type":"nominal","scale":{"range":["circle","square","triangle-up","triangle-down","diamond","M0,-1L0.2245,-0.309L0.951,-0.309L0.363,0.118L0.588,0.809L0,0.382L-0.588,0.809L-0.363,0.118L-0.951,-0.309L-0.2245,-0.309Z","circle","triangle-left"]},"legend":null}}}
  ]},
 {"width":238,"height":209,"title":"NAO+",
  "encoding":{"x":{"field":"x","type":"quantitative","scale":{"domain":[-2.6,2.6],"nice":false,"zero":false},"axis":{"values":[-2,-1,0,1,2],"title":null}},"y":{"field":"y","type":"quantitative","scale":{"domain":[-2.6,2.6],"nice":false,"zero":false},"axis":{"values":[-2,-1,0,1,2],"title":null}}},
  "layer":[
  {"data":{"name":"g"},"mark":{"type":"rule","color":"#7f7f7f","strokeDash":[6,3],"strokeWidth":1.4},"encoding":{"x2":{"field":"x2"},"y2":{"field":"y2"}}},
  {"data":{"name":"c"},"mark":{"type":"line","interpolate":"linear-closed","color":"#7f7f7f","strokeWidth":1.4},"encoding":{"order":{"field":"i","type":"quantitative"}}},
  {"data":{"name":"ph"},"mark":{"type":"text","fill":"#7f7f7f","fontSize":12},"encoding":{"text":{"field":"t"}}},
  {"data":{"name":"d"},"transform":[{"filter":"datum.p=='A4'"}],"mark":{"type":"line"},"encoding":{"color":{"field":"s","type":"nominal","scale":{"domain":["1","2","3","4","5","6","7","8"]},"legend":{"title":null,"labelExpr":"datum.label=='7'?'Targets':datum.label=='8'?'All Predictions':'lead week '+datum.label"}},"strokeDash":{"field":"s","type":"nominal","scale":{"domain":["1","2","3","4","5","6","7","8"],"range":[[4,2],[4,2],[4,2],[4,2],[4,2],[4,2],[9,3,2,3],[9,3,2,3]]},"legend":{"title":null,"labelExpr":"datum.label=='7'?'Targets':datum.label=='8'?'All Predictions':'lead week '+datum.label"}},"strokeWidth":{"field":"s","type":"ordinal","scale":{"domain":["1","2","3","4","5","6","7","8"],"range":[1,1,1,1,1,1,1.8,1.8]},"legend":null},"order":{"field":"i","type":"quantitative"}}},
  {"data":{"name":"d"},"transform":[{"filter":"datum.p=='A4'"}],"mark":{"type":"point","filled":true,"size":14,"opacity":1},"encoding":{"color":{"field":"s","type":"nominal","scale":{"domain":["1","2","3","4","5","6","7","8"]},"legend":null}}},
  {"data":{"name":"m"},"transform":[{"filter":"datum.p=='A4'"}],"mark":{"type":"point","filled":true,"size":100,"opacity":1},"encoding":{"color":{"field":"s","type":"nominal","scale":{"domain":["1","2","3","4","5","6","7","8"]},"legend":null},"shape":{"field":"s","type":"nominal","scale":{"range":["circle","square","triangle-up","triangle-down","diamond","M0,-1L0.2245,-0.309L0.951,-0.309L0.363,0.118L0.588,0.809L0,0.382L-0.588,0.809L-0.363,0.118L-0.951,-0.309L-0.2245,-0.309Z","circle","triangle-left"]},"legend":null}}}
  ]}
 ]},
{"title":{"text":"B)","orient":"left","anchor":"end","angle":0,"align":"right","baseline":"bottom","fontSize":19,"offset":5,"dx":22},
 "spacing":25,
 "hconcat":[
 {"width":238,"height":209,
  "encoding":{"x":{"field":"x","type":"quantitative","scale":{"domain":[-2.6,2.6],"nice":false,"zero":false},"axis":{"values":[-2,-1,0,1,2],"title":null}},"y":{"field":"y","type":"quantitative","scale":{"domain":[-2.6,2.6],"nice":false,"zero":false},"axis":{"values":[-2,-1,0,1,2],"title":"RMM2"}}},
  "layer":[
  {"data":{"name":"g"},"mark":{"type":"rule","color":"#7f7f7f","strokeDash":[6,3],"strokeWidth":1.4},"encoding":{"x2":{"field":"x2"},"y2":{"field":"y2"}}},
  {"data":{"name":"c"},"mark":{"type":"line","interpolate":"linear-closed","color":"#7f7f7f","strokeWidth":1.4},"encoding":{"order":{"field":"i","type":"quantitative"}}},
  {"data":{"name":"ph"},"mark":{"type":"text","fill":"#7f7f7f","fontSize":12},"encoding":{"text":{"field":"t"}}},
  {"data":{"name":"d"},"transform":[{"filter":"datum.p=='B1'"}],"mark":{"type":"line"},"encoding":{"color":{"field":"s","type":"nominal","scale":{"domain":["1","2","3","4","5","6","7","8"]},"legend":{"title":null,"labelExpr":"datum.label=='7'?'Targets':datum.label=='8'?'All Predictions':'lead week '+datum.label"}},"strokeDash":{"field":"s","type":"nominal","scale":{"domain":["1","2","3","4","5","6","7","8"],"range":[[4,2],[4,2],[4,2],[4,2],[4,2],[4,2],[9,3,2,3],[9,3,2,3]]},"legend":{"title":null,"labelExpr":"datum.label=='7'?'Targets':datum.label=='8'?'All Predictions':'lead week '+datum.label"}},"strokeWidth":{"field":"s","type":"ordinal","scale":{"domain":["1","2","3","4","5","6","7","8"],"range":[1,1,1,1,1,1,1.8,1.8]},"legend":null},"order":{"field":"i","type":"quantitative"}}},
  {"data":{"name":"d"},"transform":[{"filter":"datum.p=='B1'"}],"mark":{"type":"point","filled":true,"size":14,"opacity":1},"encoding":{"color":{"field":"s","type":"nominal","scale":{"domain":["1","2","3","4","5","6","7","8"]},"legend":null}}},
  {"data":{"name":"m"},"transform":[{"filter":"datum.p=='B1'"}],"mark":{"type":"point","filled":true,"size":100,"opacity":1},"encoding":{"color":{"field":"s","type":"nominal","scale":{"domain":["1","2","3","4","5","6","7","8"]},"legend":null},"shape":{"field":"s","type":"nominal","scale":{"range":["circle","square","triangle-up","triangle-down","diamond","M0,-1L0.2245,-0.309L0.951,-0.309L0.363,0.118L0.588,0.809L0,0.382L-0.588,0.809L-0.363,0.118L-0.951,-0.309L-0.2245,-0.309Z","circle","triangle-left"]},"legend":null}}}
  ]},
 {"width":238,"height":209,
  "encoding":{"x":{"field":"x","type":"quantitative","scale":{"domain":[-2.6,2.6],"nice":false,"zero":false},"axis":{"values":[-2,-1,0,1,2],"title":null}},"y":{"field":"y","type":"quantitative","scale":{"domain":[-2.6,2.6],"nice":false,"zero":false},"axis":{"values":[-2,-1,0,1,2],"title":null}}},
  "layer":[
  {"data":{"name":"g"},"mark":{"type":"rule","color":"#7f7f7f","strokeDash":[6,3],"strokeWidth":1.4},"encoding":{"x2":{"field":"x2"},"y2":{"field":"y2"}}},
  {"data":{"name":"c"},"mark":{"type":"line","interpolate":"linear-closed","color":"#7f7f7f","strokeWidth":1.4},"encoding":{"order":{"field":"i","type":"quantitative"}}},
  {"data":{"name":"ph"},"mark":{"type":"text","fill":"#7f7f7f","fontSize":12},"encoding":{"text":{"field":"t"}}},
  {"data":{"name":"d"},"transform":[{"filter":"datum.p=='B2'"}],"mark":{"type":"line"},"encoding":{"color":{"field":"s","type":"nominal","scale":{"domain":["1","2","3","4","5","6","7","8"]},"legend":{"title":null,"labelExpr":"datum.label=='7'?'Targets':datum.label=='8'?'All Predictions':'lead week '+datum.label"}},"strokeDash":{"field":"s","type":"nominal","scale":{"domain":["1","2","3","4","5","6","7","8"],"range":[[4,2],[4,2],[4,2],[4,2],[4,2],[4,2],[9,3,2,3],[9,3,2,3]]},"legend":{"title":null,"labelExpr":"datum.label=='7'?'Targets':datum.label=='8'?'All Predictions':'lead week '+datum.label"}},"strokeWidth":{"field":"s","type":"ordinal","scale":{"domain":["1","2","3","4","5","6","7","8"],"range":[1,1,1,1,1,1,1.8,1.8]},"legend":null},"order":{"field":"i","type":"quantitative"}}},
  {"data":{"name":"d"},"transform":[{"filter":"datum.p=='B2'"}],"mark":{"type":"point","filled":true,"size":14,"opacity":1},"encoding":{"color":{"field":"s","type":"nominal","scale":{"domain":["1","2","3","4","5","6","7","8"]},"legend":null}}},
  {"data":{"name":"m"},"transform":[{"filter":"datum.p=='B2'"}],"mark":{"type":"point","filled":true,"size":100,"opacity":1},"encoding":{"color":{"field":"s","type":"nominal","scale":{"domain":["1","2","3","4","5","6","7","8"]},"legend":null},"shape":{"field":"s","type":"nominal","scale":{"range":["circle","square","triangle-up","triangle-down","diamond","M0,-1L0.2245,-0.309L0.951,-0.309L0.363,0.118L0.588,0.809L0,0.382L-0.588,0.809L-0.363,0.118L-0.951,-0.309L-0.2245,-0.309Z","circle","triangle-left"]},"legend":null}}}
  ]},
 {"width":238,"height":209,
  "encoding":{"x":{"field":"x","type":"quantitative","scale":{"domain":[-2.6,2.6],"nice":false,"zero":false},"axis":{"values":[-2,-1,0,1,2],"title":null}},"y":{"field":"y","type":"quantitative","scale":{"domain":[-2.6,2.6],"nice":false,"zero":false},"axis":{"values":[-2,-1,0,1,2],"title":null}}},
  "layer":[
  {"data":{"name":"g"},"mark":{"type":"rule","color":"#7f7f7f","strokeDash":[6,3],"strokeWidth":1.4},"encoding":{"x2":{"field":"x2"},"y2":{"field":"y2"}}},
  {"data":{"name":"c"},"mark":{"type":"line","interpolate":"linear-closed","color":"#7f7f7f","strokeWidth":1.4},"encoding":{"order":{"field":"i","type":"quantitative"}}},
  {"data":{"name":"ph"},"mark":{"type":"text","fill":"#7f7f7f","fontSize":12},"encoding":{"text":{"field":"t"}}},
  {"data":{"name":"d"},"transform":[{"filter":"datum.p=='B3'"}],"mark":{"type":"line"},"encoding":{"color":{"field":"s","type":"nominal","scale":{"domain":["1","2","3","4","5","6","7","8"]},"legend":{"title":null,"labelExpr":"datum.label=='7'?'Targets':datum.label=='8'?'All Predictions':'lead week '+datum.label"}},"strokeDash":{"field":"s","type":"nominal","scale":{"domain":["1","2","3","4","5","6","7","8"],"range":[[4,2],[4,2],[4,2],[4,2],[4,2],[4,2],[9,3,2,3],[9,3,2,3]]},"legend":{"title":null,"labelExpr":"datum.label=='7'?'Targets':datum.label=='8'?'All Predictions':'lead week '+datum.label"}},"strokeWidth":{"field":"s","type":"ordinal","scale":{"domain":["1","2","3","4","5","6","7","8"],"range":[1,1,1,1,1,1,1.8,1.8]},"legend":null},"order":{"field":"i","type":"quantitative"}}},
  {"data":{"name":"d"},"transform":[{"filter":"datum.p=='B3'"}],"mark":{"type":"point","filled":true,"size":14,"opacity":1},"encoding":{"color":{"field":"s","type":"nominal","scale":{"domain":["1","2","3","4","5","6","7","8"]},"legend":null}}},
  {"data":{"name":"m"},"transform":[{"filter":"datum.p=='B3'"}],"mark":{"type":"point","filled":true,"size":100,"opacity":1},"encoding":{"color":{"field":"s","type":"nominal","scale":{"domain":["1","2","3","4","5","6","7","8"]},"legend":null},"shape":{"field":"s","type":"nominal","scale":{"range":["circle","square","triangle-up","triangle-down","diamond","M0,-1L0.2245,-0.309L0.951,-0.309L0.363,0.118L0.588,0.809L0,0.382L-0.588,0.809L-0.363,0.118L-0.951,-0.309L-0.2245,-0.309Z","circle","triangle-left"]},"legend":null}}}
  ]},
 {"width":238,"height":209,
  "encoding":{"x":{"field":"x","type":"quantitative","scale":{"domain":[-2.6,2.6],"nice":false,"zero":false},"axis":{"values":[-2,-1,0,1,2],"title":null}},"y":{"field":"y","type":"quantitative","scale":{"domain":[-2.6,2.6],"nice":false,"zero":false},"axis":{"values":[-2,-1,0,1,2],"title":null}}},
  "layer":[
  {"data":{"name":"g"},"mark":{"type":"rule","color":"#7f7f7f","strokeDash":[6,3],"strokeWidth":1.4},"encoding":{"x2":{"field":"x2"},"y2":{"field":"y2"}}},
  {"data":{"name":"c"},"mark":{"type":"line","interpolate":"linear-closed","color":"#7f7f7f","strokeWidth":1.4},"encoding":{"order":{"field":"i","type":"quantitative"}}},
  {"data":{"name":"ph"},"mark":{"type":"text","fill":"#7f7f7f","fontSize":12},"encoding":{"text":{"field":"t"}}},
  {"data":{"name":"d"},"transform":[{"filter":"datum.p=='B4'"}],"mark":{"type":"line"},"encoding":{"color":{"field":"s","type":"nominal","scale":{"domain":["1","2","3","4","5","6","7","8"]},"legend":{"title":null,"labelExpr":"datum.label=='7'?'Targets':datum.label=='8'?'All Predictions':'lead week '+datum.label"}},"strokeDash":{"field":"s","type":"nominal","scale":{"domain":["1","2","3","4","5","6","7","8"],"range":[[4,2],[4,2],[4,2],[4,2],[4,2],[4,2],[9,3,2,3],[9,3,2,3]]},"legend":{"title":null,"labelExpr":"datum.label=='7'?'Targets':datum.label=='8'?'All Predictions':'lead week '+datum.label"}},"strokeWidth":{"field":"s","type":"ordinal","scale":{"domain":["1","2","3","4","5","6","7","8"],"range":[1,1,1,1,1,1,1.8,1.8]},"legend":null},"order":{"field":"i","type":"quantitative"}}},
  {"data":{"name":"d"},"transform":[{"filter":"datum.p=='B4'"}],"mark":{"type":"point","filled":true,"size":14,"opacity":1},"encoding":{"color":{"field":"s","type":"nominal","scale":{"domain":["1","2","3","4","5","6","7","8"]},"legend":null}}},
  {"data":{"name":"m"},"transform":[{"filter":"datum.p=='B4'"}],"mark":{"type":"point","filled":true,"size":100,"opacity":1},"encoding":{"color":{"field":"s","type":"nominal","scale":{"domain":["1","2","3","4","5","6","7","8"]},"legend":null},"shape":{"field":"s","type":"nominal","scale":{"range":["circle","square","triangle-up","triangle-down","diamond","M0,-1L0.2245,-0.309L0.951,-0.309L0.363,0.118L0.588,0.809L0,0.382L-0.588,0.809L-0.363,0.118L-0.951,-0.309L-0.2245,-0.309Z","circle","triangle-left"]},"legend":null}}}
  ]}
 ]},
{"title":{"text":"C)","orient":"left","anchor":"end","angle":0,"align":"right","baseline":"bottom","fontSize":19,"offset":5,"dx":22},
 "spacing":25,
 "hconcat":[
 {"width":238,"height":209,
  "encoding":{"x":{"field":"x","type":"quantitative","scale":{"domain":[-2.6,2.6],"nice":false,"zero":false},"axis":{"values":[-2,-1,0,1,2],"title":"RMM1"}},"y":{"field":"y","type":"quantitative","scale":{"domain":[-2.6,2.6],"nice":false,"zero":false},"axis":{"values":[-2,-1,0,1,2],"title":"RMM2"}}},
  "layer":[
  {"data":{"name":"g"},"mark":{"type":"rule","color":"#7f7f7f","strokeDash":[6,3],"strokeWidth":1.4},"encoding":{"x2":{"field":"x2"},"y2":{"field":"y2"}}},
  {"data":{"name":"c"},"mark":{"type":"line","interpolate":"linear-closed","color":"#7f7f7f","strokeWidth":1.4},"encoding":{"order":{"field":"i","type":"quantitative"}}},
  {"data":{"name":"ph"},"mark":{"type":"text","fill":"#7f7f7f","fontSize":12},"encoding":{"text":{"field":"t"}}},
  {"data":{"name":"d"},"transform":[{"filter":"datum.p=='C1'"}],"mark":{"type":"line"},"encoding":{"color":{"field":"s","type":"nominal","scale":{"domain":["1","2","3","4","5","6","7","8"]},"legend":{"title":null,"labelExpr":"datum.label=='7'?'Targets':datum.label=='8'?'All Predictions':'lead week '+datum.label"}},"strokeDash":{"field":"s","type":"nominal","scale":{"domain":["1","2","3","4","5","6","7","8"],"range":[[4,2],[4,2],[4,2],[4,2],[4,2],[4,2],[9,3,2,3],[9,3,2,3]]},"legend":{"title":null,"labelExpr":"datum.label=='7'?'Targets':datum.label=='8'?'All Predictions':'lead week '+datum.label"}},"strokeWidth":{"field":"s","type":"ordinal","scale":{"domain":["1","2","3","4","5","6","7","8"],"range":[1,1,1,1,1,1,1.8,1.8]},"legend":null},"order":{"field":"i","type":"quantitative"}}},
  {"data":{"name":"d"},"transform":[{"filter":"datum.p=='C1'"}],"mark":{"type":"point","filled":true,"size":14,"opacity":1},"encoding":{"color":{"field":"s","type":"nominal","scale":{"domain":["1","2","3","4","5","6","7","8"]},"legend":null}}},
  {"data":{"name":"m"},"transform":[{"filter":"datum.p=='C1'"}],"mark":{"type":"point","filled":true,"size":100,"opacity":1},"encoding":{"color":{"field":"s","type":"nominal","scale":{"domain":["1","2","3","4","5","6","7","8"]},"legend":null},"shape":{"field":"s","type":"nominal","scale":{"range":["circle","square","triangle-up","triangle-down","diamond","M0,-1L0.2245,-0.309L0.951,-0.309L0.363,0.118L0.588,0.809L0,0.382L-0.588,0.809L-0.363,0.118L-0.951,-0.309L-0.2245,-0.309Z","circle","triangle-left"]},"legend":null}}}
  ]},
 {"width":238,"height":209,
  "encoding":{"x":{"field":"x","type":"quantitative","scale":{"domain":[-2.6,2.6],"nice":false,"zero":false},"axis":{"values":[-2,-1,0,1,2],"title":"RMM1"}},"y":{"field":"y","type":"quantitative","scale":{"domain":[-2.6,2.6],"nice":false,"zero":false},"axis":{"values":[-2,-1,0,1,2],"title":null}}},
  "layer":[
  {"data":{"name":"g"},"mark":{"type":"rule","color":"#7f7f7f","strokeDash":[6,3],"strokeWidth":1.4},"encoding":{"x2":{"field":"x2"},"y2":{"field":"y2"}}},
  {"data":{"name":"c"},"mark":{"type":"line","interpolate":"linear-closed","color":"#7f7f7f","strokeWidth":1.4},"encoding":{"order":{"field":"i","type":"quantitative"}}},
  {"data":{"name":"ph"},"mark":{"type":"text","fill":"#7f7f7f","fontSize":12},"encoding":{"text":{"field":"t"}}},
  {"data":{"name":"d"},"transform":[{"filter":"datum.p=='C2'"}],"mark":{"type":"line"},"encoding":{"color":{"field":"s","type":"nominal","scale":{"domain":["1","2","3","4","5","6","7","8"]},"legend":{"title":null,"labelExpr":"datum.label=='7'?'Targets':datum.label=='8'?'All Predictions':'lead week '+datum.label"}},"strokeDash":{"field":"s","type":"nominal","scale":{"domain":["1","2","3","4","5","6","7","8"],"range":[[4,2],[4,2],[4,2],[4,2],[4,2],[4,2],[9,3,2,3],[9,3,2,3]]},"legend":{"title":null,"labelExpr":"datum.label=='7'?'Targets':datum.label=='8'?'All Predictions':'lead week '+datum.label"}},"strokeWidth":{"field":"s","type":"ordinal","scale":{"domain":["1","2","3","4","5","6","7","8"],"range":[1,1,1,1,1,1,1.8,1.8]},"legend":null},"order":{"field":"i","type":"quantitative"}}},
  {"data":{"name":"d"},"transform":[{"filter":"datum.p=='C2'"}],"mark":{"type":"point","filled":true,"size":14,"opacity":1},"encoding":{"color":{"field":"s","type":"nominal","scale":{"domain":["1","2","3","4","5","6","7","8"]},"legend":null}}},
  {"data":{"name":"m"},"transform":[{"filter":"datum.p=='C2'"}],"mark":{"type":"point","filled":true,"size":100,"opacity":1},"encoding":{"color":{"field":"s","type":"nominal","scale":{"domain":["1","2","3","4","5","6","7","8"]},"legend":null},"shape":{"field":"s","type":"nominal","scale":{"range":["circle","square","triangle-up","triangle-down","diamond","M0,-1L0.2245,-0.309L0.951,-0.309L0.363,0.118L0.588,0.809L0,0.382L-0.588,0.809L-0.363,0.118L-0.951,-0.309L-0.2245,-0.309Z","circle","triangle-left"]},"legend":null}}}
  ]},
 {"width":238,"height":209,
  "encoding":{"x":{"field":"x","type":"quantitative","scale":{"domain":[-2.6,2.6],"nice":false,"zero":false},"axis":{"values":[-2,-1,0,1,2],"title":"RMM1"}},"y":{"field":"y","type":"quantitative","scale":{"domain":[-2.6,2.6],"nice":false,"zero":false},"axis":{"values":[-2,-1,0,1,2],"title":null}}},
  "layer":[
  {"data":{"name":"g"},"mark":{"type":"rule","color":"#7f7f7f","strokeDash":[6,3],"strokeWidth":1.4},"encoding":{"x2":{"field":"x2"},"y2":{"field":"y2"}}},
  {"data":{"name":"c"},"mark":{"type":"line","interpolate":"linear-closed","color":"#7f7f7f","strokeWidth":1.4},"encoding":{"order":{"field":"i","type":"quantitative"}}},
  {"data":{"name":"ph"},"mark":{"type":"text","fill":"#7f7f7f","fontSize":12},"encoding":{"text":{"field":"t"}}},
  {"data":{"name":"d"},"transform":[{"filter":"datum.p=='C3'"}],"mark":{"type":"line"},"encoding":{"color":{"field":"s","type":"nominal","scale":{"domain":["1","2","3","4","5","6","7","8"]},"legend":{"title":null,"labelExpr":"datum.label=='7'?'Targets':datum.label=='8'?'All Predictions':'lead week '+datum.label"}},"strokeDash":{"field":"s","type":"nominal","scale":{"domain":["1","2","3","4","5","6","7","8"],"range":[[4,2],[4,2],[4,2],[4,2],[4,2],[4,2],[9,3,2,3],[9,3,2,3]]},"legend":{"title":null,"labelExpr":"datum.label=='7'?'Targets':datum.label=='8'?'All Predictions':'lead week '+datum.label"}},"strokeWidth":{"field":"s","type":"ordinal","scale":{"domain":["1","2","3","4","5","6","7","8"],"range":[1,1,1,1,1,1,1.8,1.8]},"legend":null},"order":{"field":"i","type":"quantitative"}}},
  {"data":{"name":"d"},"transform":[{"filter":"datum.p=='C3'"}],"mark":{"type":"point","filled":true,"size":14,"opacity":1},"encoding":{"color":{"field":"s","type":"nominal","scale":{"domain":["1","2","3","4","5","6","7","8"]},"legend":null}}},
  {"data":{"name":"m"},"transform":[{"filter":"datum.p=='C3'"}],"mark":{"type":"point","filled":true,"size":100,"opacity":1},"encoding":{"color":{"field":"s","type":"nominal","scale":{"domain":["1","2","3","4","5","6","7","8"]},"legend":null},"shape":{"field":"s","type":"nominal","scale":{"range":["circle","square","triangle-up","triangle-down","diamond","M0,-1L0.2245,-0.309L0.951,-0.309L0.363,0.118L0.588,0.809L0,0.382L-0.588,0.809L-0.363,0.118L-0.951,-0.309L-0.2245,-0.309Z","circle","triangle-left"]},"legend":null}}}
  ]},
 {"width":238,"height":209,
  "encoding":{"x":{"field":"x","type":"quantitative","scale":{"domain":[-2.6,2.6],"nice":false,"zero":false},"axis":{"values":[-2,-1,0,1,2],"title":"RMM1"}},"y":{"field":"y","type":"quantitative","scale":{"domain":[-2.6,2.6],"nice":false,"zero":false},"axis":{"values":[-2,-1,0,1,2],"title":null}}},
  "layer":[
  {"data":{"name":"g"},"mark":{"type":"rule","color":"#7f7f7f","strokeDash":[6,3],"strokeWidth":1.4},"encoding":{"x2":{"field":"x2"},"y2":{"field":"y2"}}},
  {"data":{"name":"c"},"mark":{"type":"line","interpolate":"linear-closed","color":"#7f7f7f","strokeWidth":1.4},"encoding":{"order":{"field":"i","type":"quantitative"}}},
  {"data":{"name":"ph"},"mark":{"type":"text","fill":"#7f7f7f","fontSize":12},"encoding":{"text":{"field":"t"}}},
  {"data":{"name":"d"},"transform":[{"filter":"datum.p=='C4'"}],"mark":{"type":"line"},"encoding":{"color":{"field":"s","type":"nominal","scale":{"domain":["1","2","3","4","5","6","7","8"]},"legend":{"title":null,"labelExpr":"datum.label=='7'?'Targets':datum.label=='8'?'All Predictions':'lead week '+datum.label"}},"strokeDash":{"field":"s","type":"nominal","scale":{"domain":["1","2","3","4","5","6","7","8"],"range":[[4,2],[4,2],[4,2],[4,2],[4,2],[4,2],[9,3,2,3],[9,3,2,3]]},"legend":{"title":null,"labelExpr":"datum.label=='7'?'Targets':datum.label=='8'?'All Predictions':'lead week '+datum.label"}},"strokeWidth":{"field":"s","type":"ordinal","scale":{"domain":["1","2","3","4","5","6","7","8"],"range":[1,1,1,1,1,1,1.8,1.8]},"legend":null},"order":{"field":"i","type":"quantitative"}}},
  {"data":{"name":"d"},"transform":[{"filter":"datum.p=='C4'"}],"mark":{"type":"point","filled":true,"size":14,"opacity":1},"encoding":{"color":{"field":"s","type":"nominal","scale":{"domain":["1","2","3","4","5","6","7","8"]},"legend":null}}},
  {"data":{"name":"m"},"transform":[{"filter":"datum.p=='C4'"}],"mark":{"type":"point","filled":true,"size":100,"opacity":1},"encoding":{"color":{"field":"s","type":"nominal","scale":{"domain":["1","2","3","4","5","6","7","8"]},"legend":null},"shape":{"field":"s","type":"nominal","scale":{"range":["circle","square","triangle-up","triangle-down","diamond","M0,-1L0.2245,-0.309L0.951,-0.309L0.363,0.118L0.588,0.809L0,0.382L-0.588,0.809L-0.363,0.118L-0.951,-0.309L-0.2245,-0.309Z","circle","triangle-left"]},"legend":null}}}
  ]}
 ]}
],
"config":{
 "font":"DejaVu Sans",
 "range":{"category":["#0173b2","#de8f05","#029e73","#d55e00","#cc78bc","#ca9161","#1b7837","#762a83"]},
 "view":{"stroke":"#d4d4d4","strokeWidth":1.2},
 "axis":{"grid":true,"gridColor":"#dddddd","gridWidth":1,"domain":false,"ticks":false,"labelFontSize":10,"labelColor":"#262626","titleFontSize":15,"titleFontWeight":"normal","titleColor":"#262626","titlePadding":3,"labelFont":"DejaVu Sans","titleFont":"DejaVu Sans"},
 "axisX":{"labelPadding":3},
 "axisY":{"labelPadding":5},
 "title":{"fontSize":17,"fontWeight":"normal","font":"DejaVu Sans","color":"#262626","offset":2},
 "legend":{"orient":"none","legendX":-39,"legendY":752,"direction":"horizontal","columns":8,"labelFontSize":13.5,"labelFont":"DejaVu Sans","labelColor":"#262626","symbolType":"stroke","symbolSize":700,"symbolStrokeWidth":1.5,"columnPadding":30,"labelOffset":8,"labelLimit":300}
}
}
